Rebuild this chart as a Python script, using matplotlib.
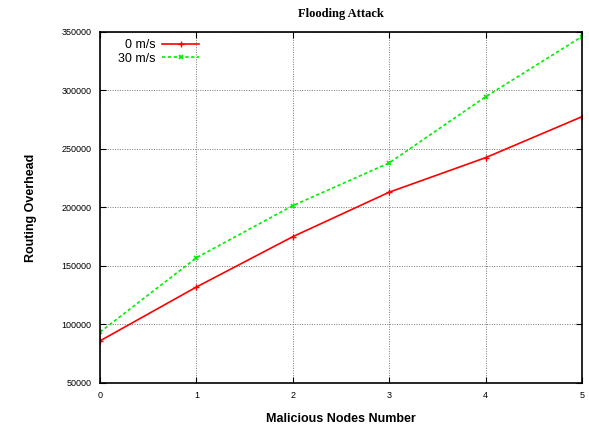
import numpy as np
import matplotlib
matplotlib.use("Agg")
import matplotlib.pyplot as plt

nodes = [0, 1, 2, 3, 4, 5]
overhead_0 = [86000, 132000, 175000, 213000, 242500, 277500]
overhead_30 = [93500, 157000, 201500, 238000, 294500, 346000]
yticks = [50000, 100000, 150000, 200000, 250000, 300000, 350000]

plt.rcParams['font.family'] = ['Liberation Sans', 'DejaVu Sans']

fig = plt.figure(figsize=(5.89, 4.25), dpi=100)
ax = fig.add_axes([0.170, 0.099, 0.818, 0.826])

ax.plot(nodes, overhead_0, color='#ff0000', lw=1.2, marker='+', ms=4, mew=1,
        label='0 m/s')
ax.plot(nodes, overhead_30, color='#00ee00', lw=1.2, ls=(0, (2, 1.5)),
        marker='x', ms=3.5, mew=1.2, label='30 m/s')

ax.set_xlim(0, 5)
ax.set_ylim(50000, 350000)
ax.set_xticks(nodes)
ax.set_yticks(yticks)
ax.tick_params(direction='in', top=True, right=True, labelsize=6.5, length=4,
               pad=6, width=0.8)
ax.grid(True, color='#777777', ls=(0, (1, 1.5)), lw=0.7)
for s in ax.spines.values():
    s.set_linewidth(1.2)

ax.set_title('Flooding Attack', family=['Liberation Serif'], fontweight='bold',
             fontsize=9, pad=11)
ax.set_xlabel('Malicious Nodes Number', fontweight='bold', fontsize=9, labelpad=9)
ax.set_ylabel('Routing Overhead', fontweight='bold', fontsize=9, labelpad=18)

leg = ax.legend(loc='upper left', markerfirst=False, frameon=False, fontsize=9,
                handlelength=3.0, handletextpad=0.5, borderaxespad=0.2,
                labelspacing=0.1, bbox_to_anchor=(0.022, 1.0))

fig.savefig('out.png', dpi=100)
